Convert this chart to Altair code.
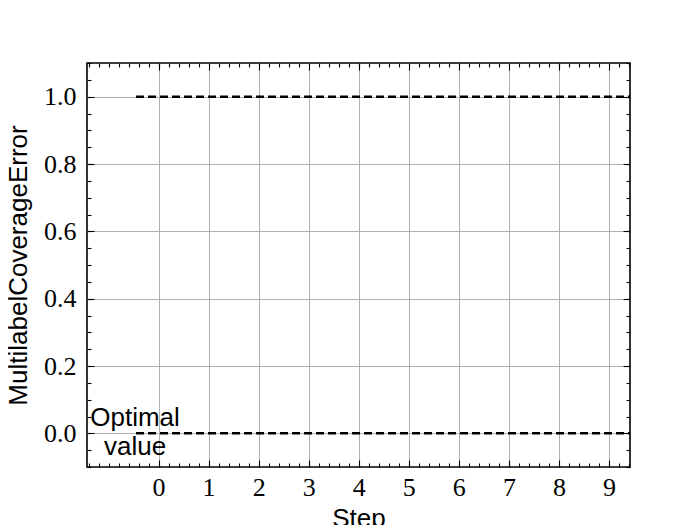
import altair as alt
import pandas as pd

# Data
line_x = [-0.45, 9.5]         # dashed lines start / end (Step)
series_names = ["metric", "optimal"]
series_levels = [1.0, 0.0]    # MultilabelCoverageError levels
note_text = "Optimal\nvalue"
note_x = [-0.47]
note_y = [0.0]

x_major = list(range(10))
x_minor = [round(-1.4 + 0.2 * i, 2) for i in range(55)]
y_major = [0.0, 0.2, 0.4, 0.6, 0.8, 1.0]
y_minor = [round(-0.1 + 0.05 * i, 2) for i in range(25)]

rows = []
for n, lv in zip(series_names, series_levels):
    for xv in line_x:
        rows.append({"series": n, "step": xv, "value": lv})
df = pd.DataFrame(rows)
note_df = pd.DataFrame({"x": note_x, "y": note_y, "t": [note_text]})

xs = alt.Scale(domain=[-1.43, 9.42], nice=False, zero=False)
ys = alt.Scale(domain=[-0.1, 1.1], nice=False, zero=False)

base = alt.Chart(df)

lines = base.mark_line(color="black", strokeDash=[8, 4], strokeWidth=2.5, clip=True).encode(
    x=alt.X("step:Q", scale=xs, axis=alt.Axis(
        orient="bottom", values=x_major, ticks=False, tickSize=0, domain=False,
        grid=True, gridColor="#b0b0b0", gridWidth=1, labelPadding=7,
        title="Step", titlePadding=5)),
    y=alt.Y("value:Q", scale=ys, axis=alt.Axis(
        orient="left", values=y_major, format=".1f", ticks=False, tickSize=0,
        domain=False, grid=True, gridColor="#b0b0b0", gridWidth=1,
        labelPadding=11, title="MultilabelCoverageError", titlePadding=12)),
    detail="series:N",
)


def tick_layer(xorient, yorient, xvals, yvals, size):
    return base.mark_point(opacity=0).encode(
        x=alt.X("step:Q", scale=xs, title=None, axis=alt.Axis(
            orient=xorient, values=xvals, offset=-size, tickSize=size,
            labels=False, domain=False, grid=False, tickColor="black", tickWidth=1.1)),
        y=alt.Y("value:Q", scale=ys, title=None, axis=alt.Axis(
            orient=yorient, values=yvals, offset=-size, tickSize=size,
            labels=False, domain=False, grid=False, tickColor="black", tickWidth=1.1)),
    )


l2 = tick_layer("bottom", "left", x_major, y_major, 7)
l3 = tick_layer("bottom", "left", x_minor, y_minor, 4)
l4 = tick_layer("top", "right", x_major, y_major, 7)
l5 = tick_layer("top", "right", x_minor, y_minor, 4)

note = alt.Chart(note_df).mark_text(
    font="Liberation Sans", fontSize=26, lineBreak="\n", lineHeight=29,
    align="center", baseline="middle", color="black", dy=-15
).encode(
    x=alt.X("x:Q", scale=xs, axis=None),
    y=alt.Y("y:Q", scale=ys, axis=None),
    text="t:N",
)

chart = alt.layer(lines, l2, l3, l4, l5, note).resolve_axis(
    x="independent", y="independent"
).properties(
    width=543, height=404,
    padding={"left": 79, "top": 55, "right": 62, "bottom": 80},
    autosize="none",
).configure_axis(
    labelFont="Liberation Serif", labelFontSize=26, labelColor="black",
    titleFont="Liberation Sans", titleFontSize=26, titleFontWeight="normal",
    titleColor="black",
).configure_view(stroke="black", strokeWidth=1.6)

chart.save("out.html", embed_options={"renderer": "svg", "actions": False})
